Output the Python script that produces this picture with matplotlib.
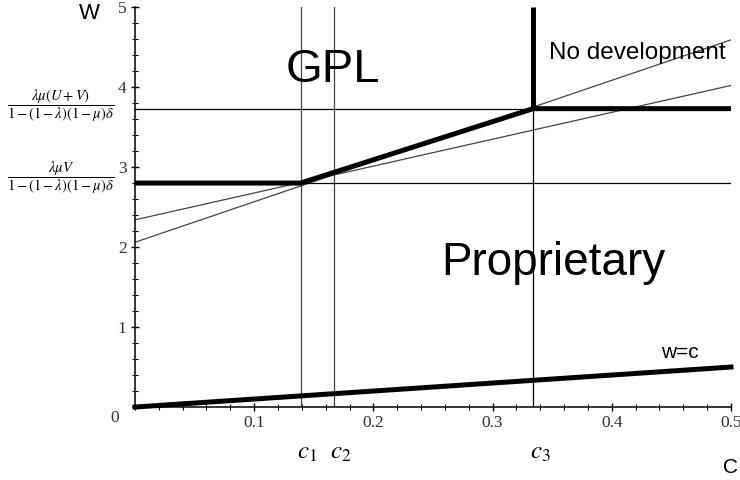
import matplotlib
matplotlib.use('Agg')
import matplotlib.pyplot as plt
from matplotlib.ticker import MultipleLocator

plt.rcParams['mathtext.fontset'] = 'stix'

# data
c_vals = [0.139, 0.167, 0.334]          # c1, c2, c3
c_names = ['$c_1$', '$c_2$', '$c_3$']
w_low = 2.8                              # lambda*mu*V / ...
w_high = 3.73                            # lambda*mu*(U+V) / ...
line_x = [0.0, 0.5]
line_a = [2.34, 4.02]
line_b = [2.06, 4.59]
wc_x = [0.0, 0.5]
wc_y = [0.0, 0.5]
xtick_vals = [0.1, 0.2, 0.3, 0.4, 0.5]
ytick_vals = [1, 2, 3, 4, 5]

fig = plt.figure(figsize=(7.4, 4.8), dpi=100)
ax = fig.add_axes([0.1824, 0.152, 0.8054, 0.8333])
ax.set_xlim(0, 0.5)
ax.set_ylim(0, 5)

c1, c2, c3 = c_vals
thin = dict(color='#444444', lw=0.9)
thick = dict(color='black', lw=3.6, solid_capstyle='butt')

# thin guide lines
ax.plot(line_x, line_a, **thin)
ax.plot(line_x, line_b, **thin)
ax.plot([c1, 0.5], [w_low, w_low], color='black', lw=0.9)
ax.plot([0, c3], [w_high, w_high], color='black', lw=0.9)
ax.plot([c1, c1], [0, 5], **thin)
ax.plot([c2, c2], [0, 5], **thin)
ax.plot([c3, c3], [0, w_high], color='black', lw=0.9)

# thick borders of the regions
ax.plot([0, c1, c3, 0.5], [w_low, w_low, w_high, w_high], **thick)
ax.plot([c3, c3], [w_high, 5], **thick)
ax.plot(wc_x, wc_y, color='black', lw=3.6, clip_on=False)

# axes only left and bottom
for s in ['top', 'right']:
    ax.spines[s].set_visible(False)
for s in ['left', 'bottom']:
    ax.spines[s].set_linewidth(1.1)

ax.set_xticks(xtick_vals)
ax.set_yticks(ytick_vals)
ax.set_xticklabels([str(v) for v in xtick_vals])
ax.set_yticklabels([str(v) for v in ytick_vals])
ax.xaxis.set_minor_locator(MultipleLocator(0.02))
ax.yaxis.set_minor_locator(MultipleLocator(0.2))
ax.tick_params(which='major', direction='inout', length=6, width=1, colors='black',
               labelcolor='#333333', labelsize=12.5, pad=3)
ax.tick_params(which='minor', direction='inout', length=4, width=0.8)
for lab in ax.get_xticklabels() + ax.get_yticklabels():
    lab.set_family('Liberation Serif')
ax.text(-0.017, -0.14, '0', fontsize=12.5, color='#333333', family='Liberation Serif',
        ha='center', va='center')

# region labels
ax.text(0.126, 4.06, 'GPL', fontsize=34, family='Liberation Sans', va='baseline')
ax.text(0.257, 1.65, 'Proprietary', fontsize=33, family='Liberation Sans', va='baseline')
ax.text(0.347, 4.35, 'No development', fontsize=17.5, family='Liberation Sans', va='baseline')
ax.text(0.441, 0.61, 'w=c', fontsize=15, family='Liberation Sans', va='baseline')

# c1, c2, c3 under the axis
for c, name in zip(c_vals, c_names):
    ax.text(c - 0.003, -0.112, name, transform=ax.get_xaxis_transform(),
            fontsize=18, ha='left', va='center')

# fractions on the y axis
ax.text(-0.124, 3.77, r'$\dfrac{\lambda\mu(U+V)}{1-(1-\lambda)(1-\mu)\delta}$',
        transform=ax.get_yaxis_transform(), fontsize=10.5, ha='center', va='center')
ax.text(-0.124, 2.87, r'$\dfrac{\lambda\mu V}{1-(1-\lambda)(1-\mu)\delta}$',
        transform=ax.get_yaxis_transform(), fontsize=10.5, ha='center', va='center')

# axis names
fig.text(0.121, 0.972, 'W', fontsize=16, family='Liberation Sans', ha='center', va='center')
fig.text(0.987, 0.027, 'C', fontsize=15, family='Liberation Sans', ha='center', va='center')

fig.savefig('out.png', dpi=100)
